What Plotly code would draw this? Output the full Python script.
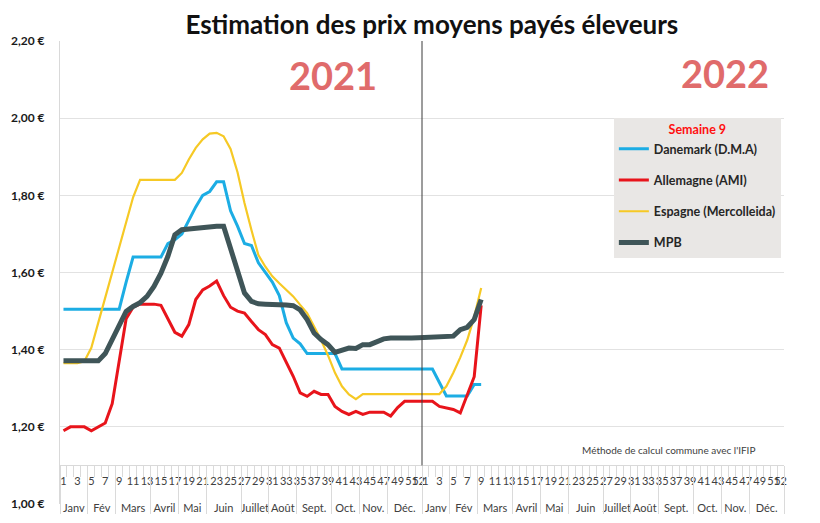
import plotly.graph_objects as go

# semaines 2021 puis début 2022
weeks_2021 = list(range(1, 53))
weeks_2022 = list(range(1, 10))

danemark_2021 = [1.505, 1.505, 1.505, 1.505, 1.505, 1.505, 1.505, 1.505, 1.505, 1.575,
                 1.64, 1.64, 1.64, 1.64, 1.64, 1.675, 1.685, 1.70, 1.735, 1.77,
                 1.80, 1.81, 1.835, 1.835, 1.76, 1.72, 1.675, 1.67, 1.625, 1.60,
                 1.575, 1.54, 1.47, 1.43, 1.415, 1.39, 1.39, 1.39, 1.39, 1.39,
                 1.35, 1.35, 1.35, 1.35, 1.35, 1.35, 1.35, 1.35, 1.35, 1.35,
                 1.35, 1.35]
danemark_2022 = [1.35, 1.35, 1.315, 1.28, 1.28, 1.28, 1.28, 1.31, 1.31]

allemagne_2021 = [1.19, 1.20, 1.20, 1.20, 1.19, 1.20, 1.21, 1.26, 1.37, 1.48,
                  1.51, 1.518, 1.518, 1.518, 1.515, 1.48, 1.445, 1.435, 1.465, 1.53,
                  1.555, 1.565, 1.578, 1.54, 1.51, 1.50, 1.495, 1.473, 1.452, 1.439,
                  1.413, 1.404, 1.366, 1.331, 1.288, 1.279, 1.292, 1.284, 1.284, 1.253,
                  1.24, 1.232, 1.24, 1.232, 1.238, 1.238, 1.238, 1.228, 1.25, 1.266,
                  1.266, 1.266]
allemagne_2022 = [1.266, 1.266, 1.253, 1.249, 1.245, 1.236, 1.285, 1.33, 1.515]

espagne_2021 = [1.365, 1.365, 1.365, 1.37, 1.405, 1.47, 1.535, 1.60, 1.665, 1.73,
                1.795, 1.84, 1.84, 1.84, 1.84, 1.84, 1.84, 1.858, 1.893, 1.923,
                1.945, 1.96, 1.962, 1.953, 1.92, 1.86, 1.78, 1.71, 1.645, 1.615,
                1.59, 1.572, 1.555, 1.538, 1.516, 1.495, 1.46, 1.425, 1.385, 1.34,
                1.305, 1.284, 1.272, 1.285, 1.285, 1.285, 1.285, 1.285, 1.285, 1.285,
                1.285, 1.285]
espagne_2022 = [1.285, 1.285, 1.285, 1.305, 1.34, 1.38, 1.425, 1.485, 1.56]

mpb_2021 = [1.371, 1.371, 1.371, 1.371, 1.371, 1.371, 1.39, 1.425, 1.46, 1.499,
            1.512, 1.522, 1.538, 1.564, 1.598, 1.642, 1.698, 1.711, 1.713, 1.715,
            1.718, 1.72, 1.72, 1.72, 1.659, 1.60, 1.547, 1.525, 1.519, 1.518,
            1.518, 1.518, 1.516, 1.514, 1.503, 1.478, 1.443, 1.426, 1.413, 1.393,
            1.398, 1.404, 1.403, 1.413, 1.413, 1.422, 1.428, 1.43, 1.429, 1.43,
            1.43, 1.431]
mpb_2022 = [1.432, 1.432, 1.433, 1.434, 1.435, 1.452, 1.458, 1.478, 1.53]

months = ["Janv", "Fév", "Mars", "Avril", "Mai", "Juin", "Juillet", "Août",
          "Sept.", "Oct.", "Nov.", "Déc."]
weeks_per_month = [4, 4, 5, 4, 4, 5, 4, 4, 5, 4, 4, 5]
price_ticks = [1.0, 1.2, 1.4, 1.6, 1.8, 2.0, 2.2]

n_year = len(weeks_2021)
x_pos = weeks_2021 + [n_year + w for w in weeks_2022]
y_min, y_max = price_ticks[0], price_ticks[-1]
axis_level = 1.10
axis_pos = (axis_level - y_min) / (y_max - y_min)

FONT = "Lato"

series = [
    ("Danemark (D.M.A)", danemark_2021 + danemark_2022, "#1CADE4", 3),
    ("Allemagne (AMI)", allemagne_2021 + allemagne_2022, "#E8141B", 3),
    ("Espagne (Mercolleida)", espagne_2021 + espagne_2022, "#F6C925", 2.2),
    ("MPB", mpb_2021 + mpb_2022, "#3F5558", 5),
]

fig = go.Figure()
for i, (name, vals, color, width) in enumerate(series):
    fig.add_trace(go.Scatter(
        x=x_pos, y=vals, mode="lines", name=name,
        line=dict(color=color, width=width),
        legendgroup=str(i),
    ))

# traces vides pour que les axes des mois soient dessinés
for ax in ("x2", "x3"):
    fig.add_trace(go.Scatter(x=[], y=[], xaxis=ax, showlegend=False, hoverinfo="skip"))

# libellés des semaines (impairs + 52) pour les deux années
week_vals, week_text = [], []
for offset in (0, n_year):
    for w in weeks_2021:
        if w % 2 == 1 or w == 52:
            week_vals.append(offset + w)
            week_text.append(str(w))

month_centers, month_text, month_bounds = [], [], [0.5]
for offset in (0, n_year):
    start = 0
    for m, n in zip(months, weeks_per_month):
        month_centers.append(offset + start + (n + 1) / 2)
        month_text.append(m)
        start += n
        month_bounds.append(offset + start + 0.5)

x_range = [0.5, 2 * n_year + 0.5]
grid = "#E2E2E2"

fig.update_layout(
    width=812, height=515,
    margin=dict(l=52, r=36, t=33, b=19),
    paper_bgcolor="white", plot_bgcolor="white",
    font=dict(family=FONT, size=11, color="#404040"),
    title=dict(text="<b>Estimation des prix moyens payés éleveurs</b>",
               x=0.522, y=0.968, xanchor="center", yanchor="middle",
               font=dict(family=FONT, size=26, color="#111111")),
    xaxis=dict(range=x_range, anchor="free", position=axis_pos, automargin=False,
               showgrid=False, zeroline=False,
               showline=True, linecolor="#D9D9D9",
               tickmode="array", tickvals=week_vals, ticktext=week_text,
               tickangle=0, ticks="", ticklabelstandoff=5,
               tickfont=dict(size=11, color="#404040"),
               minor=dict(tick0=0.5, dtick=1, ticks="outside", ticklen=11,
                          tickcolor="#DADADA", showgrid=False)),
    xaxis2=dict(range=x_range, overlaying="x", anchor="free", position=axis_pos,
                automargin=False, showgrid=False, zeroline=False, showline=False,
                tickmode="array", tickvals=month_centers, ticktext=month_text,
                tickangle=0, ticks="", ticklabelstandoff=35,
                tickfont=dict(size=11, color="#404040")),
    xaxis3=dict(range=x_range, overlaying="x", anchor="free", position=axis_pos,
                automargin=False, showgrid=False, zeroline=False, showline=False,
                tickmode="array", tickvals=month_bounds, showticklabels=False,
                ticks="outside", ticklen=48, tickcolor="#DADADA"),
    yaxis=dict(range=[y_min, y_max], tickmode="array", tickvals=price_ticks,
               ticktext=[f"{v:.2f}".replace(".", ",") + " €" for v in price_ticks],
               automargin=False, ticklabelstandoff=12,
               showgrid=True, gridcolor=grid, zeroline=False,
               showline=True, linecolor="#D9D9D9",
               tickfont=dict(family=FONT, size=12, color="#1A1A1A", weight="bold")),
    legend=dict(x=0.765, y=0.834, xanchor="left", yanchor="top",
                bgcolor="#E9E7E5", borderwidth=0,
                itemwidth=30, tracegroupgap=12,
                font=dict(family=FONT, size=12.5, color="#262626", weight="bold"),
                title=dict(text="<b>Semaine 9</b>", side="top center",
                           font=dict(family=FONT, size=12.5, color="#FF1010"))),
    showlegend=True,
)

# séparation des deux années
fig.add_shape(type="line", x0=n_year + 0.5, x1=n_year + 0.5, xref="x",
              y0=axis_level, y1=y_max, yref="y",
              line=dict(color="#3A3A3A", width=1))

for text, xp, yp in [("2021", 0.377, 0.927), ("2022", 0.918, 0.931)]:
    fig.add_annotation(text=f"<b>{text}</b>", x=xp, y=yp, xref="paper", yref="paper",
                       xanchor="center", yanchor="middle", showarrow=False,
                       font=dict(family=FONT, size=38, color="#E06B6B"))

fig.add_annotation(text="Méthode de calcul commune avec l'IFIP", x=0.84, y=0.117,
                   xref="paper", yref="paper", xanchor="center", yanchor="middle",
                   showarrow=False, font=dict(family=FONT, size=10, color="#404040"))

fig.write_html("out.html")
